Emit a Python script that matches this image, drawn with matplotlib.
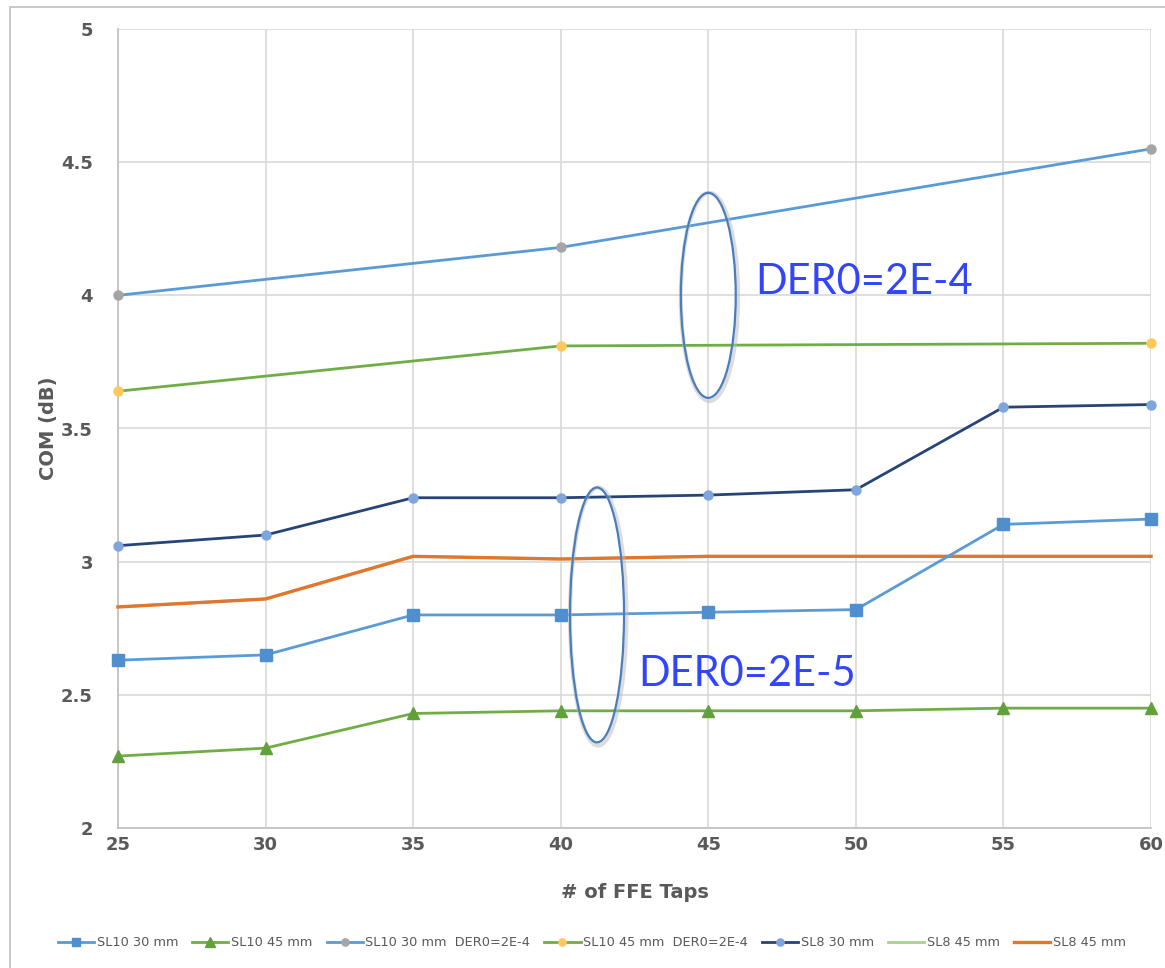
import matplotlib
matplotlib.use("Agg")
import matplotlib.pyplot as plt
from matplotlib.patches import Ellipse, Rectangle

taps = [25, 30, 35, 40, 45, 50, 55, 60]
taps_der = [25, 40, 60]

sl10_30 = [2.63, 2.65, 2.80, 2.80, 2.81, 2.82, 3.14, 3.16]
sl10_45 = [2.27, 2.30, 2.43, 2.44, 2.44, 2.44, 2.45, 2.45]
sl10_30_der = [4.00, 4.18, 4.55]
sl10_45_der = [3.64, 3.81, 3.82]
sl8_30 = [3.06, 3.10, 3.24, 3.24, 3.25, 3.27, 3.58, 3.59]
sl8_45_green = [2.83, 2.86, 3.02, 3.01, 3.02, 3.02, 3.02, 3.02]
sl8_45 = [2.83, 2.86, 3.02, 3.01, 3.02, 3.02, 3.02, 3.02]

labels = ["SL10 30 mm", "SL10 45 mm", "SL10 30 mm  DER0=2E-4",
          "SL10 45 mm  DER0=2E-4", "SL8 30 mm", "SL8 45 mm", "SL8 45 mm"]

W, H = 1165, 968
fig = plt.figure(figsize=(W / 100, H / 100), dpi=100)
ax = fig.add_axes([118 / W, 1 - 828 / H, (1151 - 118) / W, (828 - 29) / H])

lw = 2.0
kw = dict(lw=lw, clip_on=False)
ax.plot(taps, sl10_30, color="#5B9BD5", marker="s", ms=8,
        mfc="#4F8FCF", mec="#4F8FCF", label=labels[0], zorder=4, **kw)
ax.plot(taps, sl10_45, color="#70AD47", marker="^", ms=9,
        mfc="#62A03C", mec="#62A03C", label=labels[1], zorder=4, **kw)
ax.plot(taps_der, sl10_30_der, color="#5B9BD5", marker="o", ms=6.5,
        mfc="#A5A5A5", mec="#A5A5A5", label=labels[2], zorder=4, **kw)
ax.plot(taps_der, sl10_45_der, color="#70AD47", marker="o", ms=6.5,
        mfc="#FFC85A", mec="#FFC85A", label=labels[3], zorder=4, **kw)
ax.plot(taps, sl8_30, color="#264478", marker="o", ms=6.5,
        mfc="#7EA6DC", mec="#7EA6DC", label=labels[4], zorder=4, **kw)
ax.plot(taps, sl8_45_green, color="#A9D18E", label=labels[5], zorder=3, **kw)
ax.plot(taps, sl8_45, color="#E2762C", lw=lw + 0.4, label=labels[6], zorder=3.5,
        clip_on=False)

ax.set_xlim(25, 60)
ax.set_ylim(2, 5)
ax.set_xticks(taps)
ax.set_yticks([2, 2.5, 3, 3.5, 4, 4.5, 5])
ax.set_yticklabels(["2", "2.5", "3", "3.5", "4", "4.5", "5"])
ax.grid(True, color="#D9D9D9", lw=1.2)
ax.set_axisbelow(True)
for s in ["top", "right"]:
    ax.spines[s].set_visible(False)
for s in ["left", "bottom"]:
    ax.spines[s].set_color("#BFBFBF")
    ax.spines[s].set_linewidth(1.2)
ax.tick_params(length=0, labelsize=13, labelcolor="#595959")
ax.tick_params(axis="y", pad=18)
ax.tick_params(axis="x", pad=6)
for t in ax.get_xticklabels() + ax.get_yticklabels():
    t.set_fontweight("bold")
ax.set_xlabel("# of FFE Taps", fontsize=14, fontweight="bold", color="#595959", labelpad=21)
ax.set_ylabel("COM (dB)", fontsize=14, fontweight="bold", color="#595959", labelpad=2)

for (cx, cy, w, h) in [(45, 4.0, 1.86, 0.77), (41.23, 2.80, 1.83, 0.957)]:
    ax.add_patch(Ellipse((cx + 0.04, cy - 0.006), w + 0.08, h + 0.012, fill=False,
                         ec="#BBBBBB", lw=3.0, alpha=0.5, zorder=4.9))
    ax.add_patch(Ellipse((cx, cy), w, h, fill=False, ec="#4A7EBB", lw=1.6, zorder=5))

ax.text(46.6, 4.05, "DER0=2E-4", fontsize=30, color="#3344FF", family="Lato",
        va="center", ha="left", zorder=6)
ax.text(42.62, 2.58, "DER0=2E-5", fontsize=30, color="#3344FF", family="Lato",
        va="center", ha="left", zorder=6)

# outer chart border
fig.add_artist(Rectangle((10 / W, -0.01), 1.1, 1 - 7 / H + 0.01, transform=fig.transFigure,
                         fill=False, ec="#BFBFBF", lw=1.2))

leg = fig.legend(loc="center", bbox_to_anchor=(0.508, 1 - 943 / H), ncol=7,
                 frameon=False, fontsize=9.3, handlelength=2.8, columnspacing=1.1,
                 handletextpad=0.2, labelcolor="#595959", markerscale=0.8)

fig.savefig("out.png", dpi=100)
